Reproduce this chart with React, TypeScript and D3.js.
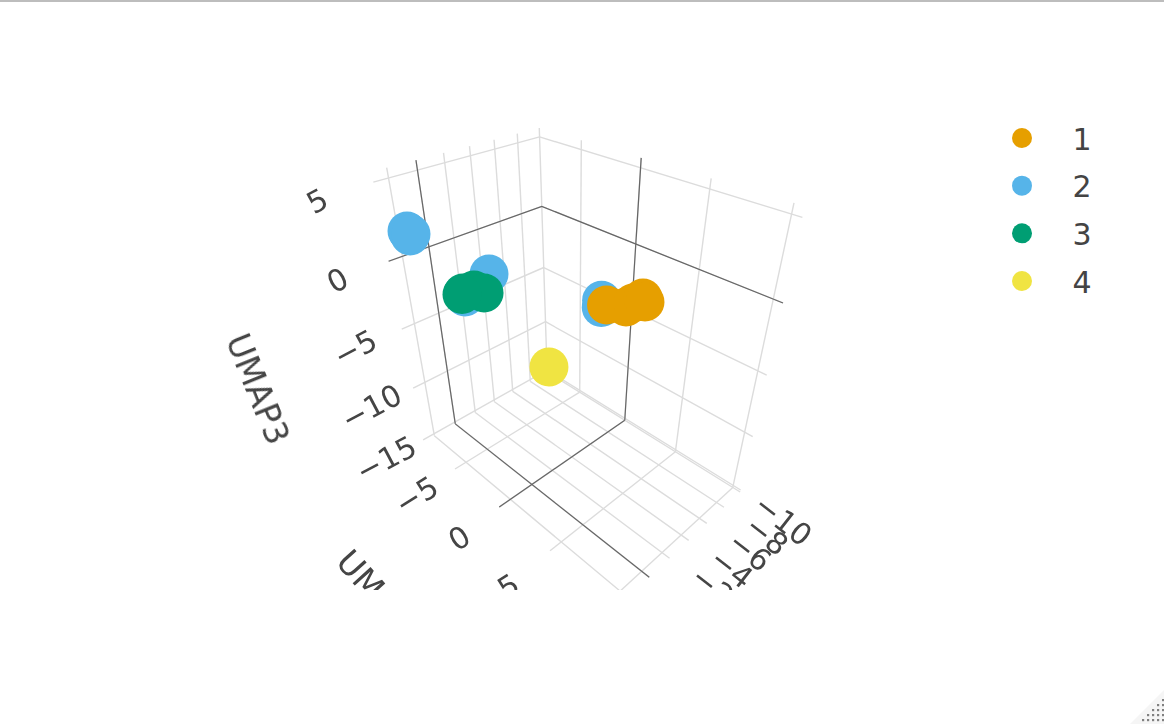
import React from "react";
import * as d3 from "d3";

const uTicks = [-10, -8, -6, -4, -2, 0, 2];
const vTicks = [-5, 0, 5, 10];
const zTicks = [-15, -10, -5, 0, 5];
const uRange = [-10, 3.0];
const vRange = [-9, 10.6];
const zRange = [-15.2, 5.6];

const categories = ["1", "2", "3", "4"];
const colors = ["#E69F00", "#56B4E9", "#009E73", "#F0E442"];
const umap1_1 = [-2.74, -4.44, -5.05, -5.96, -6.18];
const umap2_1 = [4, 4, 4, 4, 4];
const umap3_1 = [0.02, -0.79, -0.78, -0.8, -1.16];
const umap1_2 = [3.02, 2.93, 3.07, 2.85, -0.89, 1.06, -2.32, -2.31];
const umap2_2 = [-6, -6, -6, -6, -4, -4, 4, 4];
const umap3_2 = [2.9, 2.63, 2.98, 2.73, -0.41, -1.25, 0.49, 0.04];
const umap1_3 = [1.17, 0.35, -0.38, 1.25];
const umap2_3 = [-4, -4, -4, -4];
const umap3_3 = [-0.94, -1.05, -1.53, -1.01];
const umap1_4 = [-2.89];
const umap2_4 = [-1];
const umap3_4 = [-6.9];
const series = [
  { c: 1, u: umap1_2, v: umap2_2, z: umap3_2 },
  { c: 0, u: umap1_1, v: umap2_1, z: umap3_1 },
  { c: 2, u: umap1_3, v: umap2_3, z: umap3_3 },
  { c: 3, u: umap1_4, v: umap2_4, z: umap3_4 },
];

// camera calibration: world point -> screen point
const calib: number[][] = [
  [-10,-9,5,539,138],[-10,-9,0,541,205],[-10,-9,-15,548,372],[0,-9,0,428,247],[0,-9,-15,454,420],
  [-10,0,0,635,243],[-10,0,-15,625,418],[-10,10,5,793,215],[-10,10,-15,733,484],[0,0,-15,534,484],[0,10,-15,640,570],[0,-9,5,419,170],
];
function solve(A:number[][],b:number[]){const n=b.length;const M=A.map((r,i)=>[...r,b[i]]);for(let i=0;i<n;i++){let p=i;for(let k=i;k<n;k++)if(Math.abs(M[k][i])>Math.abs(M[p][i]))p=k;[M[i],M[p]]=[M[p],M[i]];for(let k=0;k<n;k++){if(k===i)continue;const f=M[k][i]/M[i][i];for(let j=i;j<=n;j++)M[k][j]-=f*M[i][j];}}return M.map((r,i)=>r[n]/r[i]);}
function fit(){const rows:number[][]=[];const rhs:number[]=[];for(const [u,v,z,x,y] of calib){const U=u/10,V=v/10,Z=z/10,X=x/1000,Y=y/1000;rows.push([U,V,Z,1,0,0,0,0,-X*U,-X*V,-X*Z]);rhs.push(X);rows.push([0,0,0,0,U,V,Z,1,-Y*U,-Y*V,-Y*Z]);rhs.push(Y);}
const n=11;const N=d3.range(n).map(i=>d3.range(n).map(j=>d3.sum(rows,r=>r[i]*r[j])));const t=d3.range(n).map(i=>d3.sum(rows,(r,k)=>r[i]*rhs[k]));return solve(N,t);}
const P=fit();
function proj(u:number,v:number,z:number):[number,number]{const U=u/10,V=v/10,Z=z/10;const w=P[8]*U+P[9]*V+P[10]*Z+1;return [1000*(P[0]*U+P[1]*V+P[2]*Z+P[3])/w,1000*(P[4]*U+P[5]*V+P[6]*Z+P[7])/w];}
const line=d3.line<[number,number]>().x(d=>d[0]).y(d=>d[1]);
type V3=[number,number,number];
const seg=(a:V3,b:V3)=>line([proj(...a),proj(...b)])!;
const INK="#444";
const GRID="#dcdcdc";
const fmt=(n:number)=>(n<0?"\u2212":"")+Math.abs(n);

function Tick({x,y,rot,size,text}:{x:number;y:number;rot:number;size:number;text:string}){
  return <text transform={`translate(${x},${y}) rotate(${rot})`} textAnchor="middle" dominantBaseline="central" fontSize={size} fill={INK}>{text}</text>;
}

export default function App(){
  const [u0,u1]=uRange,[v0,v1]=vRange,[z0,z1]=zRange;
  const G:string[]=[];
  for(const u of uTicks){G.push(seg([u,v0,z0],[u,v0,z1]));G.push(seg([u,v0,z0],[u,v1,z0]));}
  for(const v of vTicks){G.push(seg([u0,v,z0],[u0,v,z1]));G.push(seg([u0,v,z0],[u1,v,z0]));}
  for(const z of zTicks){G.push(seg([u0,v0,z],[u1,v0,z]));G.push(seg([u0,v0,z],[u0,v1,z]));}
  const Dk=[seg([0,v0,z0],[0,v0,z1]),seg([0,v0,z0],[0,v1,z0]),seg([u0,0,z0],[u0,0,z1]),seg([u0,0,z0],[u1,0,z0]),
    line([proj(u1,v0,0),proj(u0,v0,0),proj(u0,v1,0)])!];
  const legendY=d3.scalePoint<string>().domain(categories).range([138,281]);
  const gripRows=d3.range(5);
  return <svg width={1164} height={724} style={{position:"absolute",left:0,top:0,display:"block",fontFamily:"'DejaVu Sans'"}}>
    <defs>
      <clipPath id="plot"><rect x={0} y={0} width={1164} height={590}/></clipPath>
      <filter id="soft" x="-5%" y="-5%" width="110%" height="110%"><feGaussianBlur stdDeviation={0.45}/></filter>
    </defs>
    <rect x={0} y={0} width={1164} height={724} fill="#fff"/>
    <rect x={0} y={0} width={1164} height={2} fill="#bdbdbd"/>
    <g clipPath="url(#plot)"><g filter="url(#soft)">
      {G.map((d,i)=><path key={i} d={d} stroke={GRID} strokeWidth={1.4} fill="none"/>)}
      {Dk.map((d,i)=><path key={i} d={d} stroke="#666" strokeWidth={1.2} fill="none"/>)}
      {series.map(s=>s.u.map((u,i)=>{const [x,y]=proj(u,s.v[i],s.z[i]);return <circle key={s.c+"-"+i} cx={x} cy={y} r={19.5} fill={colors[s.c]}/>;}))}
      {zTicks.map(z=>{const [x,y]=proj(u1,v0,z);return <Tick key={z} x={x-(37+(z+15)*0.95)} y={y+19} rot={-28} size={30} text={fmt(z)}/>;})}
      {[-5,0,5].map(v=>{const [x,y]=proj(u1,v,z0);return <Tick key={v} x={x-40-0.3*v} y={y+31+0.9*v} rot={-32} size={30} text={fmt(v)}/>;})}
      {[-10,-8,-6,-4,-2].map(u=>{const [x,y]=proj(u,v1,z0);return <Tick key={u} x={x+43} y={y+28} rot={38} size={30} text={fmt(u)}/>;})}
      <text transform="translate(258,389) rotate(68)" textAnchor="middle" dominantBaseline="central" fontSize={33} fill={INK}>UMAP3</text>
      <text transform="translate(343,555) rotate(48)" dominantBaseline="central" fontSize={33} fill={INK}>UMAP2</text>
      <text transform="translate(856,594) rotate(-45)" textAnchor="end" dominantBaseline="central" fontSize={33} fill={INK}>UMAP1</text>
    </g></g>
    {categories.map((c,i)=><g key={c}>
      <circle cx={1022} cy={legendY(c)} r={10} fill={colors[i]}/>
      <text x={1082} y={legendY(c)!+1} textAnchor="middle" dominantBaseline="central" fontSize={30} fill={INK}>{c}</text>
    </g>)}
    <path d={line([[1164,690],[1164,724],[1130,724]])+"Z"} fill="#f5f5f5"/>
    {gripRows.flatMap(r=>d3.range(r+1).map(k=><rect key={r+"-"+k} x={1162-k*5} y={699+r*5} width={2.2} height={2.2} fill="#808080"/>))}
  </svg>;
}
